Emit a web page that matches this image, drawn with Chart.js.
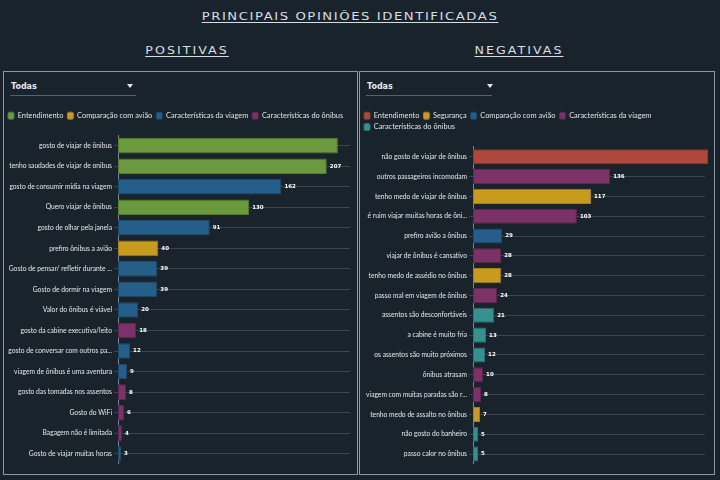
<!DOCTYPE html>
<html>
<head>
<meta charset="utf-8">
<script src="https://cdn.jsdelivr.net/npm/chart.js@4/dist/chart.umd.min.js"></script>
<style>
  html,body{margin:0;padding:0;}
  body{width:720px;height:480px;background:#19232c;position:relative;overflow:hidden;font-family:"Open Sans",sans-serif;}
  .h{position:absolute;color:#d9dee3;text-decoration:underline;text-underline-offset:2px;font-family:"DejaVu Sans",sans-serif;white-space:nowrap;transform-origin:50% 50%;}
  .panel{position:absolute;border:1.5px solid #8e979f;box-sizing:border-box;}
  .dd{position:absolute;color:#e6e9ec;font:bold 8px "DejaVu Sans",sans-serif;}
  .ddline{position:absolute;height:1px;background:#56616b;}
  .tri{position:absolute;width:0;height:0;border-left:3.5px solid transparent;border-right:3.5px solid transparent;border-top:4px solid #e6e9ec;}
  canvas{position:absolute;}
</style>
</head>
<body>
<div class="h" style="left:350px;top:10px;font-size:11px;letter-spacing:1.3px;transform:translateX(-50%) scaleX(1.2);">PRINCIPAIS OPINIÕES IDENTIFICADAS</div>
<div class="h" style="left:187px;top:44px;font-size:10.5px;letter-spacing:1.7px;transform:translateX(-50%) scaleX(1.2);">POSITIVAS</div>
<div class="h" style="left:519px;top:44px;font-size:10.5px;letter-spacing:1.7px;transform:translateX(-50%) scaleX(1.2);">NEGATIVAS</div>

<div class="panel" style="left:3px;top:71px;width:355px;height:404px;"></div>
<div class="panel" style="left:359px;top:71px;width:356px;height:404px;"></div>

<div class="dd" style="left:11px;top:82px;">Todas</div>
<div class="ddline" style="left:10px;top:95px;width:126px;"></div>
<div class="tri" style="left:127px;top:84px;"></div>

<div class="dd" style="left:367px;top:82px;">Todas</div>
<div class="ddline" style="left:366px;top:95px;width:126px;"></div>
<div class="tri" style="left:487px;top:84px;"></div>

<canvas id="pos" width="352" height="366" style="left:4px;top:104px;"></canvas>
<canvas id="neg" width="354" height="366" style="left:360px;top:104px;"></canvas>

<script>
// ---------- DATA ----------
const posCategories = [
  "gosto de viajar de ônibus",
  "tenho saudades de viajar de onibus",
  "gosto de consumir mídia na viagem",
  "Quero viajar de ônibus",
  "gosto de olhar pela janela",
  "prefiro ônibus a avião",
  "Gosto de pensar/ refletir durante ...",
  "Gosto de dormir na viagem",
  "Valor do ônibus é viável",
  "gosto da cabine executiva/leito",
  "gosto de conversar com outros pa...",
  "viagem de ônibus é uma aventura",
  "gosto das tomadas nos assentos",
  "Gosto do WiFi",
  "Bagagem não é limitada",
  "Gosto de viajar muitas horas"
];
const posValues = [218, 207, 162, 130, 91, 40, 39, 39, 20, 18, 12, 9, 8, 6, 4, 3];
const posGroupOf = [
  "Entendimento", "Entendimento", "Características da viagem", "Entendimento",
  "Características da viagem", "Comparação com avião", "Características da viagem",
  "Características da viagem", "Características da viagem", "Características do ônibus",
  "Características da viagem", "Características da viagem", "Características do ônibus",
  "Características do ônibus", "Características do ônibus", "Características da viagem"
];
const posGroups = ["Entendimento", "Comparação com avião", "Características da viagem", "Características do ônibus"];

const negCategories = [
  "não gosto de viajar de ônibus",
  "outros passageiros incomodam",
  "tenho medo de viajar de ônibus",
  "é ruim viajar muitas horas de ôni...",
  "prefiro avião a ônibus",
  "viajar de ônibus é cansativo",
  "tenho medo de assédio no ônibus",
  "passo mal em viagem de ônibus",
  "assentos são desconfortáveis",
  "a cabine é muito fria",
  "os assentos são muito próximos",
  "ônibus atrasam",
  "viagem com muitas paradas são r...",
  "tenho medo de assalto no ônibus",
  "não gosto do banheiro",
  "passo calor no ônibus"
];
const negValues = [233, 136, 117, 103, 29, 28, 28, 24, 21, 13, 12, 10, 8, 7, 5, 5];
const negGroupOf = [
  "Entendimento", "Características da viagem", "Segurança", "Características da viagem",
  "Comparação com avião", "Características da viagem", "Segurança", "Características da viagem",
  "Características do ônibus", "Características do ônibus", "Características do ônibus",
  "Características da viagem", "Características da viagem", "Segurança",
  "Características do ônibus", "Características do ônibus"
];
const negGroups = ["Entendimento", "Segurança", "Comparação com avião", "Características da viagem", "Características do ônibus"];

// ---------- STYLES ----------
const posColors = {
  "Entendimento": ["#6b9a3e", "#557d30"],
  "Comparação com avião": ["#c99b1d", "#a57e15"],
  "Características da viagem": ["#255e88", "#1c4a6c"],
  "Características do ônibus": ["#7c3266", "#622751"]
};
const negColors = {
  "Entendimento": ["#b0473d", "#8f3931"],
  "Segurança": ["#c99b1d", "#a57e15"],
  "Comparação com avião": ["#255e88", "#1c4a6c"],
  "Características da viagem": ["#7c3266", "#622751"],
  "Características do ônibus": ["#35918f", "#2a7573"]
};

const valueLabels = {
  id: 'valueLabels',
  afterDatasetsDraw(chart) {
    const ctx = chart.ctx;
    const area = chart.chartArea;
    ctx.save();
    ctx.font = 'bold 5.5px "DejaVu Sans", sans-serif';
    ctx.fillStyle = '#ffffff';
    ctx.textBaseline = 'middle';
    ctx.textAlign = 'left';
    chart.data.datasets.forEach((ds, di) => {
      const meta = chart.getDatasetMeta(di);
      meta.data.forEach((el, i) => {
        const v = ds.data[i];
        if (v === null || v === undefined) return;
        const x = el.x + 3;
        if (x + 10 > area.right) return;
        ctx.fillText(String(v), x, el.y);
      });
    });
    ctx.restore();
  }
};

function buildChart(id, cats, vals, groupOf, groups, colors, yWidth, padRight, legendExtra) {
  const datasets = groups.map(g => ({
    label: g,
    data: vals.map((v, i) => groupOf[i] === g ? v : null),
    backgroundColor: colors[g][0],
    borderColor: colors[g][1],
    borderWidth: 1,
    borderSkipped: false,
    categoryPercentage: 1,
    barPercentage: 0.76,
    clip: {left: 0, top: 0, right: 4, bottom: 0}
  }));
  return new Chart(document.getElementById(id), {
    type: 'bar',
    data: { labels: cats, datasets },
    plugins: [valueLabels, {
      id: 'legendPad',
      beforeInit(chart) {
        const fit = chart.legend.fit;
        chart.legend.fit = function () { fit.bind(chart.legend)(); this.height += legendExtra; };
      }
    }],
    options: {
      responsive: false,
      animation: false,
      indexAxis: 'y',
      layout: { padding: { top: 4, right: padRight, left: 0, bottom: 6 } },
      plugins: {
        tooltip: { enabled: false },
        legend: {
          position: 'top',
          align: 'start',
          labels: {
            color: '#dfe3e7',
            font: { size: 7.4, family: 'Lato, sans-serif' },
            boxWidth: 6,
            boxHeight: 7,
            padding: 4,
            useBorderRadius: true,
            borderRadius: 1.5
          }
        }
      },
      scales: {
        x: {
          stacked: true,
          display: false,
          min: 0,
          max: 230
        },
        y: {
          stacked: true,
          afterFit(scale) { scale.width = yWidth; },
          grid: {
            offset: false,
            color: '#3a4550',
            lineWidth: 1,
            tickLength: 4,
            drawOnChartArea: true
          },
          border: { display: true, color: '#7d878f', width: 1 },
          ticks: {
            color: '#e4e7ea',
            font: { size: 6.7, family: 'Lato, sans-serif' },
            padding: 2,
            autoSkip: false
          }
        }
      }
    }
  });
}

buildChart('pos', posCategories, posValues, posGroupOf, posGroups, posColors, 114, 6, 6);
buildChart('neg', negCategories, negValues, negGroupOf, negGroups, negColors, 113, 9, 6);
</script>
</body>
</html>
